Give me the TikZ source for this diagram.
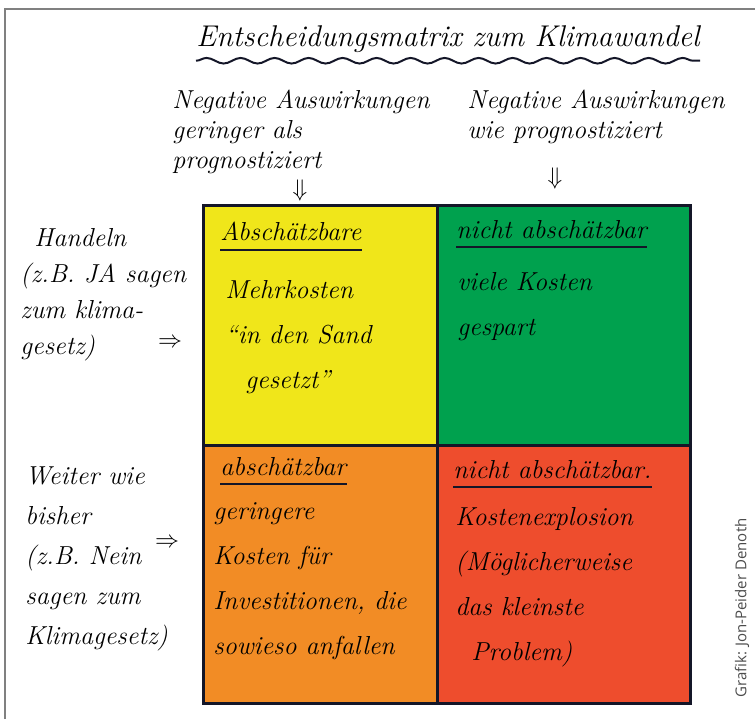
\documentclass[tikz,border=0pt]{standalone}
\usepackage{fontspec}
\newfontfamily\creditfont{Open Sans}
\usetikzlibrary{decorations.pathmorphing}
\definecolor{cYel}{RGB}{240,230,26}
\definecolor{cGrn}{RGB}{0,161,78}
\definecolor{cOrg}{RGB}{242,140,37}
\definecolor{cRed}{RGB}{238,77,45}
\definecolor{cLine}{RGB}{20,22,40}

\begin{document}
\begin{tikzpicture}[x=0.5pt, y=-0.5pt,
                    hand/.style={anchor=north west, inner sep=0pt, align=left,
                                 font=\fontsize{13}{22.5}\selectfont\itshape},
                    head/.style={hand, font=\fontsize{13}{15}\selectfont\itshape},
                    cell/.style={draw=cLine, line width=1.5pt},
                    uline/.style={draw=cLine, line width=1pt},
                    dbl/.style={inner sep=0pt, font=\fontsize{12}{12}\selectfont}]

    \useasboundingbox (0,0) rectangle (755,719);
    % frame (cut at the right and bottom)
    \draw[gray, line width=0.8pt] (5,719) -- (5,9) -- (755,9);

    % Title
    \node[hand, font=\fontsize{15}{18}\selectfont\itshape] (title) at (196,25)
        {Entscheidungsmatrix zum Klimawandel};
    \draw[uline, decorate, decoration={snake, amplitude=1.4pt, segment length=17pt}]
        ([yshift=-4pt]title.south west) -- ([yshift=-4pt]title.south east);

    % Column headers
    \node[head] (hdL) at (172,90) {Negative Auswirkungen\\geringer als\\prognostiziert};
    \node[head] (hdR) at (467,90) {Negative Auswirkungen\\wie prognostiziert};
    \node[dbl] (arL) at (300,190) {$\Downarrow$};
    \node[dbl] (arR) at (555,178) {$\Downarrow$};

    % Row headers
    \node[hand, font=\fontsize{13}{18}\selectfont\itshape] (rwA) at (20,228)
        {\hspace{7pt}Handeln\\(z.B. JA sagen\\zum klima-\\gesetz)};
    \node[dbl] (raA) at (170,343) {$\Rightarrow$};
    \node[hand, font=\fontsize{13}{20}\selectfont\itshape] (rwB) at (25,466)
        {Weiter wie\\bisher\\(z.B. Nein\\sagen zum\\Klimagesetz)};
    \node[dbl] (raB) at (167,543) {$\Rightarrow$};

    % Matrix cells
    \fill[cYel] (203,205) rectangle (437,445);
    \fill[cGrn] (437,205) rectangle (690,445);
    \fill[cOrg] (203,445) rectangle (437,703);
    \fill[cRed] (437,445) rectangle (690,703);
    \draw[cell] (203,205) rectangle (690,703);
    \draw[cell] (437,205) -- (437,703);
    \draw[cell] (203,445) -- (690,445);

    % Cell texts
    \node[hand] (tA) at (220,222) {Absch\"atzbare};
    \node[hand] (bA) at (225,280) {Mehrkosten\\“in den Sand\\\hspace{10pt}gesetzt”};
    \node[hand] (tB) at (456,220) {nicht absch\"atzbar};
    \node[hand] (bB) at (457,272) {viele Kosten\\gespart};
    \node[hand] (tC) at (220,457) {absch\"atzbar};
    \node[hand] (bC) at (213,502) {geringere\\Kosten f\"ur\\Investitionen, die\\sowieso anfallen};
    \node[hand] (tD) at (453,460) {nicht absch\"atzbar.};
    \node[hand] (bD) at (455,507) {Kostenexplosion\\(M\"oglicherweise\\das kleinste\\\hspace{8pt}Problem)};
    \foreach \n in {tA, tB, tC, tD}
        \draw[uline] ([yshift=-4pt]\n.south west) -- ([yshift=-4pt]\n.south east);

    % Credit
    \node[rotate=90, inner sep=0pt, text=black!70, font=\creditfont\fontsize{7.5}{9}\selectfont]
        (credit) at (742,608) {Grafik: Jon-Peider Denoth};
\end{tikzpicture}
\end{document}
